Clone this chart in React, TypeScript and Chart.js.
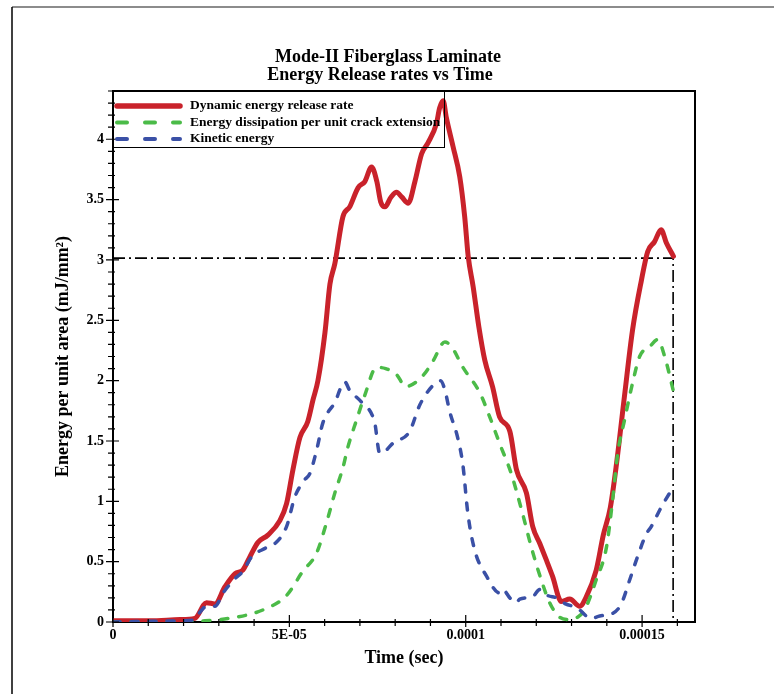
import { useEffect, useRef } from 'react';
import { Chart, registerables } from 'chart.js';

Chart.register(...registerables);

const titleLines = ['Mode-II Fiberglass Laminate', 'Energy Release rates vs Time'];
const xAxisTitle = 'Time (sec)';
const yAxisTitle = 'Energy per unit area (mJ/mm²)';
const seriesNames = [
  'Dynamic energy release rate',
  'Energy dissipation per unit crack extension',
  'Kinetic energy',
];
const xTickLabels = ['0', '5E-05', '0.0001', '0.00015'];
const yTickLabels = ['0', '0.5', '1', '1.5', '2', '2.5', '3', '3.5', '4'];

// time in units of 1E-05 s
const redTime = [0, 1.05, 1.9, 2.32, 2.65, 2.89, 3.17, 3.46, 3.68, 3.88, 4.11, 4.39, 4.73, 4.92, 5.1, 5.3, 5.52, 5.67, 5.81, 6.01, 6.15, 6.29, 6.52, 6.71, 6.95, 7.14, 7.33, 7.48, 7.59, 7.71, 7.88, 8.04, 8.19, 8.37, 8.56, 8.75, 8.93, 9.17, 9.26, 9.36, 9.45, 9.64, 9.83, 9.97, 10.07, 10.21, 10.37, 10.54, 10.76, 10.96, 11.25, 11.44, 11.72, 11.9, 12.1, 12.29, 12.46, 12.71, 12.95, 13.23, 13.42, 13.7, 13.9, 14.1, 14.27, 14.5, 14.73, 14.98, 15.16, 15.35, 15.54, 15.69, 15.89];
const redValue = [0.01, 0.01, 0.02, 0.03, 0.16, 0.15, 0.29, 0.4, 0.43, 0.54, 0.66, 0.72, 0.84, 0.98, 1.26, 1.53, 1.66, 1.84, 2.0, 2.4, 2.8, 2.97, 3.36, 3.44, 3.6, 3.65, 3.77, 3.65, 3.48, 3.44, 3.52, 3.56, 3.52, 3.47, 3.65, 3.88, 3.97, 4.13, 4.26, 4.32, 4.18, 3.94, 3.69, 3.36, 3.03, 2.78, 2.45, 2.17, 1.95, 1.7, 1.58, 1.26, 1.07, 0.79, 0.65, 0.51, 0.38, 0.17, 0.19, 0.13, 0.21, 0.43, 0.72, 0.95, 1.3, 1.87, 2.42, 2.83, 3.07, 3.15, 3.25, 3.14, 3.03];

const greenTime = [0, 2.0, 2.61, 3.5, 4.25, 4.92, 5.38, 5.77, 6.05, 6.29, 6.52, 6.66, 6.9, 7.14, 7.47, 7.73, 8.04, 8.3, 8.6, 8.84, 9.07, 9.41, 9.6, 9.92, 10.4, 10.68, 10.96, 11.29, 11.61, 11.86, 12.14, 12.38, 12.66, 12.95, 13.17, 13.37, 13.7, 13.99, 14.16, 14.31, 14.5, 14.73, 14.93, 15.21, 15.44, 15.64, 15.89];
const greenValue = [0, 0, 0.01, 0.04, 0.1, 0.22, 0.42, 0.57, 0.82, 1.07, 1.28, 1.45, 1.67, 1.88, 2.11, 2.1, 2.05, 1.95, 1.99, 2.06, 2.16, 2.32, 2.28, 2.11, 1.9, 1.7, 1.48, 1.23, 0.9, 0.62, 0.35, 0.16, 0.04, 0.02, 0.04, 0.1, 0.35, 0.62, 1.0, 1.4, 1.67, 1.98, 2.2, 2.28, 2.34, 2.2, 1.91];

const blueTime = [0, 1.9, 2.32, 2.46, 2.66, 2.89, 3.12, 3.46, 3.68, 3.93, 4.31, 4.59, 4.92, 5.16, 5.44, 5.58, 5.77, 5.95, 6.29, 6.57, 6.71, 7.05, 7.42, 7.56, 7.73, 7.93, 8.41, 8.7, 9.07, 9.29, 9.41, 9.55, 9.77, 9.92, 10.06, 10.25, 10.59, 10.96, 11.05, 11.25, 11.44, 11.53, 11.9, 12.1, 12.32, 12.57, 12.83, 13.14, 13.56, 13.8, 14.16, 14.41, 14.65, 14.87, 15.12, 15.26, 15.54, 15.89];
const blueValue = [0, 0.01, 0.02, 0.08, 0.13, 0.13, 0.24, 0.36, 0.42, 0.54, 0.61, 0.65, 0.79, 1.04, 1.18, 1.23, 1.42, 1.65, 1.82, 1.99, 1.92, 1.82, 1.65, 1.4, 1.42, 1.48, 1.58, 1.8, 1.96, 2.0, 1.92, 1.74, 1.53, 1.3, 0.9, 0.6, 0.38, 0.24, 0.27, 0.2, 0.16, 0.19, 0.21, 0.27, 0.22, 0.2, 0.15, 0.12, 0.03, 0.05, 0.07, 0.15, 0.35, 0.54, 0.73, 0.79, 0.95, 1.12];

// dash-dot reference level and time
const refLevel = 3.015;
const refTime = 15.88;

const FONT = "'Liberation Serif', 'Times New Roman', serif";
const RED = '#c9222b';
const GREEN = '#4bbb48';
const BLUE = '#3a50a6';

const pts = (t: number[], v: number[]) => t.map((x, i) => ({ x, y: v[i] }));

const decor = {
  id: 'decor',
  afterDraw(chart: any) {
    const ctx = chart.ctx as CanvasRenderingContext2D;
    const { left, right, top, bottom } = chart.chartArea;
    const xs = chart.scales.x;
    const ys = chart.scales.y;
    ctx.save();

    // page frame
    ctx.strokeStyle = '#8c8c8c';
    ctx.lineWidth = 2;
    ctx.beginPath();
    ctx.moveTo(12, 7);
    ctx.lineTo(780, 7);
    ctx.stroke();
    ctx.strokeStyle = '#000';
    ctx.lineWidth = 1.5;
    ctx.beginPath();
    ctx.moveTo(12, 7);
    ctx.lineTo(12, 700);
    ctx.stroke();

    // plot frame top and right
    ctx.lineWidth = 2;
    ctx.beginPath();
    ctx.moveTo(left - 1, top);
    ctx.lineTo(right, top);
    ctx.lineTo(right, bottom);
    ctx.stroke();

    // tick marks
    ctx.lineWidth = 1.2;
    ctx.beginPath();
    for (let k = 0; k <= 16; k++) {
      const x = xs.getPixelForValue(k);
      const major = k % 5 === 0;
      ctx.moveTo(x, bottom - (major ? 7 : 3));
      ctx.lineTo(x, bottom + (major ? 5 : 4));
    }
    for (let k = 0; k <= 44; k++) {
      const y = ys.getPixelForValue(k / 10);
      const major = k % 5 === 0;
      ctx.moveTo(left - (major ? 7 : 5), y);
      ctx.lineTo(left + (major ? 6 : 2), y);
    }
    ctx.stroke();

    // titles
    ctx.fillStyle = '#000';
    ctx.textAlign = 'center';
    ctx.textBaseline = 'middle';
    ctx.font = `bold 18px ${FONT}`;
    ctx.fillText(titleLines[0], 388, 57);
    ctx.fillText(titleLines[1], 380, 75);
    ctx.fillText(xAxisTitle, (left + right) / 2, 658);
    ctx.save();
    ctx.translate(63, (top + bottom) / 2);
    ctx.rotate(-Math.PI / 2);
    ctx.fillText(yAxisTitle, 0, 0);
    ctx.restore();

    // legend
    ctx.lineWidth = 1;
    ctx.strokeRect(left + 0.5, top + 0.5, 331, 56);
    const rows = [106, 122.5, 139];
    const colors = [RED, GREEN, BLUE];
    ctx.font = `bold 13.5px ${FONT}`;
    ctx.textAlign = 'left';
    for (let i = 0; i < 3; i++) {
      ctx.strokeStyle = colors[i];
      ctx.lineCap = 'round';
      ctx.beginPath();
      if (i === 0) {
        ctx.lineWidth = 5.5;
        ctx.setLineDash([]);
      } else {
        ctx.lineWidth = 4;
        ctx.setLineDash([10, 18]);
      }
      ctx.moveTo(left + 4, rows[i]);
      ctx.lineTo(left + 67, rows[i]);
      ctx.stroke();
      ctx.setLineDash([]);
      ctx.fillStyle = '#000';
      ctx.fillText(seriesNames[i], left + 77, rows[i]);
    }
    ctx.restore();
  },
};

export default function App() {
  const ref = useRef<HTMLCanvasElement | null>(null);
  useEffect(() => {
    if (!ref.current) return;
    const chart = new Chart(ref.current, {
      type: 'line',
      data: {
        datasets: [
          {
            label: seriesNames[2],
            data: pts(blueTime, blueValue),
            borderColor: BLUE,
            borderWidth: 3.5,
            borderDash: [7, 11],
            borderCapStyle: 'round',
            pointRadius: 0,
            cubicInterpolationMode: 'monotone',
          },
          {
            label: seriesNames[1],
            data: pts(greenTime, greenValue),
            borderColor: GREEN,
            borderWidth: 3.5,
            borderDash: [7, 11],
            borderCapStyle: 'round',
            pointRadius: 0,
            cubicInterpolationMode: 'monotone',
          },
          {
            label: seriesNames[0],
            data: pts(redTime, redValue),
            borderColor: RED,
            borderWidth: 5,
            borderCapStyle: 'round',
            borderJoinStyle: 'round',
            pointRadius: 0,
            cubicInterpolationMode: 'monotone',
          },
          {
            label: 'reference',
            data: [
              { x: 0, y: refLevel },
              { x: refTime, y: refLevel },
              { x: refTime, y: 0 },
            ],
            borderColor: '#000',
            borderWidth: 1.6,
            borderDash: [12, 4, 2, 4],
            pointRadius: 0,
            tension: 0,
          },
        ] as any,
      },
      options: {
        responsive: false,
        animation: false,
        devicePixelRatio: 1,
        layout: { padding: { top: 91, right: 79, left: 0, bottom: 0 } },
        plugins: {
          legend: { display: false },
          title: { display: false },
          tooltip: { enabled: false },
        },
        scales: {
          x: {
            type: 'linear',
            min: 0,
            max: 16.5,
            afterFit: (s: any) => {
              s.height = 72;
            },
            grid: { display: false, drawTicks: false },
            border: { display: true, color: '#000', width: 2 },
            ticks: {
              stepSize: 5,
              includeBounds: false,
              padding: 5,
              color: '#000',
              maxRotation: 0,
              font: { family: FONT, weight: 'bold', size: 14 },
              callback: (_v: any, i: number) => xTickLabels[i] ?? '',
            },
          },
          y: {
            type: 'linear',
            min: 0,
            max: 4.4,
            afterFit: (s: any) => {
              s.width = 113;
            },
            grid: { display: false, drawTicks: false },
            border: { display: true, color: '#000', width: 2 },
            ticks: {
              stepSize: 0.5,
              includeBounds: false,
              padding: 9,
              color: '#000',
              font: { family: FONT, weight: 'bold', size: 14 },
              callback: (_v: any, i: number) => yTickLabels[i] ?? '',
            },
          },
        } as any,
      },
      plugins: [decor],
    });
    return () => chart.destroy();
  }, []);
  return (
    <div style={{ position: 'fixed', left: 0, top: 0, width: 774, height: 694, background: '#fff' }}>
      <canvas ref={ref} width={774} height={694} style={{ display: 'block' }} />
    </div>
  );
}
